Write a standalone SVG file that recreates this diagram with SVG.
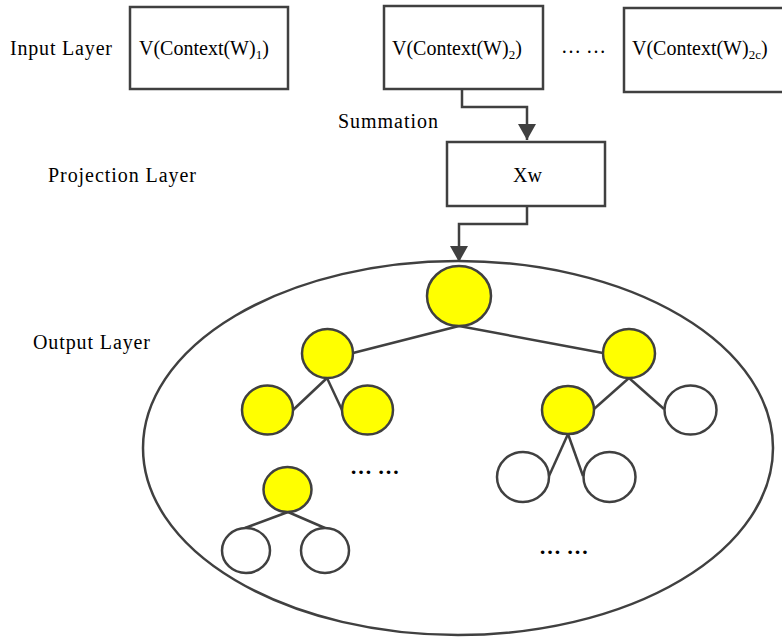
<svg xmlns="http://www.w3.org/2000/svg" width="782" height="639" viewBox="0 0 782 639">
<style>
  .lbl { font-family: "Liberation Serif", "Times New Roman", serif; font-size: 20px; fill: #000; }
  .sub { font-size: 13px; }
  .box { fill: #fff; stroke: #404040; stroke-width: 2.5; }
  .edge { fill: none; stroke: #404040; stroke-width: 2.5; }
  .y { fill: #ffff00; stroke: #404040; stroke-width: 2.5; }
  .w { fill: #fff; stroke: #404040; stroke-width: 2.5; }
  .dots { font-family: "Liberation Serif", "Times New Roman", serif; font-size: 22px; font-weight: bold; fill: #000; }
</style>
<defs>
  <marker id="arr" markerUnits="userSpaceOnUse" markerWidth="18" markerHeight="18" viewBox="0 0 18 18" refX="16" refY="9" orient="auto">
    <path d="M0,0 L16,9 L0,18 Z" fill="#404040"/>
  </marker>
</defs>
<rect width="782" height="639" fill="#fff"/>

<text class="lbl" x="10" y="55" textLength="102" lengthAdjust="spacing">Input Layer</text>
<text class="lbl" x="48" y="182" textLength="148" lengthAdjust="spacing">Projection Layer</text>
<text class="lbl" x="33" y="349" textLength="117" lengthAdjust="spacing">Output Layer</text>
<text class="lbl" x="338" y="128" textLength="100" lengthAdjust="spacing">Summation</text>

<g id="input1">
  <rect class="box" x="130" y="7" width="158" height="82"/>
  <text class="lbl" x="139" y="55">V(Context(W)<tspan class="sub" dy="4">1</tspan><tspan dy="-4">)</tspan></text>
</g>
<g id="input2">
  <rect class="box" x="384" y="6" width="159" height="83"/>
  <text class="lbl" x="392" y="55">V(Context(W)<tspan class="sub" dy="4">2</tspan><tspan dy="-4">)</tspan></text>
</g>
<text class="lbl" x="561" y="53" font-size="18">… …</text>
<g id="input3">
  <rect class="box" x="624" y="8" width="180" height="84"/>
  <text class="lbl" x="632" y="55">V(Context(W)<tspan class="sub" dy="4">2c</tspan><tspan dy="-4">)</tspan></text>
</g>

<g id="projection">
  <rect class="box" x="447" y="142" width="158" height="64"/>
  <text class="lbl" x="513" y="182">Xw</text>
</g>

<g id="output-layer">
  <ellipse class="w" cx="458" cy="448" rx="315" ry="187"/>
</g>

<g id="connectors">
  <path class="edge" d="M462,89 V107 H527 V140" marker-end="url(#arr)"/>
  <path class="edge" d="M527,206 V224 H459 V262" marker-end="url(#arr)"/>
  <path class="edge" d="M459,326 L353,353"/>
  <path class="edge" d="M459,326 L603,353"/>
  <path class="edge" d="M327,378 L293,410"/>
  <path class="edge" d="M327,378 L342,410"/>
  <path class="edge" d="M629,378 L594,409"/>
  <path class="edge" d="M629,378 L664,409"/>
  <path class="edge" d="M568,434 L549,476"/>
  <path class="edge" d="M568,434 L583,476"/>
  <path class="edge" d="M288,512 L245,528"/>
  <path class="edge" d="M288,512 L325,528"/>
</g>

<g id="n-root"><ellipse class="y" cx="459" cy="296" rx="32" ry="30"/></g>
<g id="n-l"><ellipse class="y" cx="327.5" cy="353.5" rx="25.5" ry="24.5"/></g>
<g id="n-r"><ellipse class="y" cx="629" cy="353.5" rx="26" ry="24.5"/></g>
<g id="n-ll"><ellipse class="y" cx="267.5" cy="410" rx="25.5" ry="24.5"/></g>
<g id="n-lr"><ellipse class="y" cx="367.5" cy="410" rx="25.5" ry="24.5"/></g>
<g id="n-rl"><ellipse class="y" cx="568" cy="410" rx="26" ry="24"/></g>
<g id="n-rr"><ellipse class="w" cx="690.5" cy="410" rx="26" ry="24.5"/></g>
<g id="n-rll"><ellipse class="w" cx="523" cy="477" rx="26" ry="25"/></g>
<g id="n-rlr"><ellipse class="w" cx="609.5" cy="477" rx="26" ry="25"/></g>
<g id="n-x"><ellipse class="y" cx="287.5" cy="489.5" rx="24" ry="22.5"/></g>
<g id="n-xl"><ellipse class="w" cx="246" cy="550.5" rx="24" ry="22.5"/></g>
<g id="n-xr"><ellipse class="w" cx="325" cy="550.5" rx="24" ry="22.5"/></g>

<text class="dots" x="350" y="474">… …</text>
<text class="dots" x="539" y="554">… …</text>
</svg>
